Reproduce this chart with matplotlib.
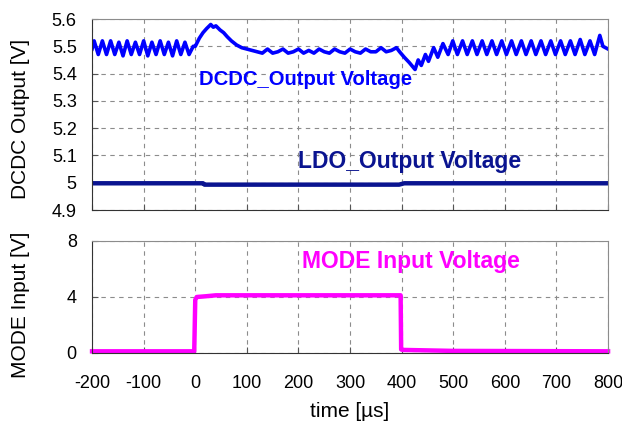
import numpy as np
import matplotlib.pyplot as plt

plt.rcParams['font.family'] = ['Liberation Sans', 'DejaVu Sans']
plt.rcParams['axes.unicode_minus'] = False

# DCDC output voltage trace
dcdc_t = [-200, -196, -188, -180, -172, -164, -156, -148, -140, -132, -124, -116,
          -108, -100, -92, -84, -76, -68, -60, -52, -44, -36, -28, -20, -12, -4,
          0, 8, 15, 22, 30, 35, 40, 48, 55, 62, 70, 80, 90, 100, 110, 120, 130,
          140, 150, 160, 170, 180, 190, 200, 210, 220, 230, 240, 250, 260, 270,
          280, 290, 300, 310, 320, 330, 340, 350, 360, 370, 380, 390, 396,
          405, 415, 426, 432, 438, 446, 452, 462, 470, 480, 490, 499, 508, 518,
          527, 537, 546, 556, 565, 575, 584, 594, 603, 613, 622, 632, 641, 651,
          660, 670, 679, 689, 698, 708, 717, 727, 736, 746, 755, 765, 774, 784,
          790, 800]
dcdc_v = [5.49, 5.52, 5.47, 5.52, 5.47, 5.52, 5.47, 5.515, 5.465, 5.52, 5.47,
          5.515, 5.47, 5.52, 5.465, 5.515, 5.47, 5.52, 5.47, 5.515, 5.465, 5.52,
          5.47, 5.515, 5.47, 5.50, 5.50, 5.53, 5.55, 5.565, 5.58, 5.57, 5.575,
          5.56, 5.55, 5.535, 5.52, 5.505, 5.495, 5.49, 5.485, 5.48, 5.475,
          5.49, 5.475, 5.48, 5.49, 5.475, 5.48, 5.49, 5.475, 5.485, 5.475,
          5.49, 5.48, 5.475, 5.49, 5.48, 5.475, 5.49, 5.48, 5.475, 5.49, 5.48,
          5.48, 5.495, 5.48, 5.485, 5.495, 5.48,
          5.46, 5.44, 5.415, 5.45, 5.43, 5.47, 5.445, 5.495, 5.46, 5.51, 5.47,
          5.52, 5.47, 5.52, 5.47, 5.52, 5.47, 5.52, 5.47, 5.52, 5.47, 5.52,
          5.47, 5.52, 5.47, 5.52, 5.47, 5.52, 5.47, 5.52, 5.47, 5.52, 5.47,
          5.52, 5.47, 5.52, 5.47, 5.525, 5.47, 5.52, 5.47, 5.54, 5.50, 5.49]

# LDO output voltage trace
ldo_t = [-200, 15, 18, 395, 405, 800]
ldo_v = [4.998, 4.998, 4.993, 4.993, 4.998, 4.998]

# MODE input voltage trace
mode_t = [-200, -2, 0, 3, 20, 40, 398, 399, 402, 500, 800]
mode_v = [0.12, 0.12, 3.8, 4.0, 4.05, 4.12, 4.12, 0.25, 0.22, 0.15, 0.12]

x_ticks = [-200, -100, 0, 100, 200, 300, 400, 500, 600, 700, 800]
top_ticks = [4.9, 5.0, 5.1, 5.2, 5.3, 5.4, 5.5, 5.6]
top_labels = ['4.9', '5', '5.1', '5.2', '5.3', '5.4', '5.5', '5.6']
bot_ticks = [0, 4, 8]

fig = plt.figure(figsize=(6.22, 4.23), dpi=100)
ax1 = fig.add_axes([0.148, 0.5035, 0.8296, 0.4515])
ax2 = fig.add_axes([0.148, 0.1655, 0.8296, 0.2648])

for ax in (ax1, ax2):
    ax.set_xlim(-200, 800)
    ax.set_xticks(x_ticks)
    ax.grid(True, color='#8c8c8c', linestyle=(0, (4, 4)), linewidth=0.8)
    ax.tick_params(direction='in', length=4, labelsize=13, color='#555555')
    ax.tick_params(axis='y', pad=11)
    ax.tick_params(axis='x', pad=16)
    for s in ('top', 'right'):
        ax.spines[s].set_color('#8c8c8c')
    for s in ('left', 'bottom'):
        ax.spines[s].set_color('#333333')

ax1.plot(dcdc_t, dcdc_v, color='#0000ff', lw=2.6)
ax1.plot(ldo_t, ldo_v, color='#0a1490', lw=3.2)
ax1.set_ylim(4.9, 5.6)
ax1.set_yticks(top_ticks)
ax1.set_yticklabels(top_labels)
ax1.set_xticklabels([])
ax1.set_ylabel('DCDC Output [V]', fontsize=15)
ax1.yaxis.set_label_coords(-0.12, 0.479)
ax1.text(8, 5.358, 'DCDC_Output Voltage', color='#0000ff', fontsize=14.6,
         fontweight='bold', ha='left', va='baseline')
ax1.text(199, 5.054, 'LDO_Output Voltage', color='#0a1490', fontsize=16.5,
         fontweight='bold', ha='left', va='baseline')

ax2.plot(mode_t, mode_v, color='#ff00ff', lw=3.2, clip_on=False)
ax2.set_ylim(0, 8)
ax2.set_yticks(bot_ticks)
ax2.set_ylabel('MODE Input [V]', fontsize=15)
ax2.yaxis.set_label_coords(-0.12, 0.43)
ax2.set_xlabel('time [µs]', fontsize=15, labelpad=7)
ax2.text(207, 6.07, 'MODE Input Voltage', color='#ff00ff', fontsize=16.5,
         fontweight='bold', ha='left', va='baseline')

fig.savefig('out.png', dpi=100)
